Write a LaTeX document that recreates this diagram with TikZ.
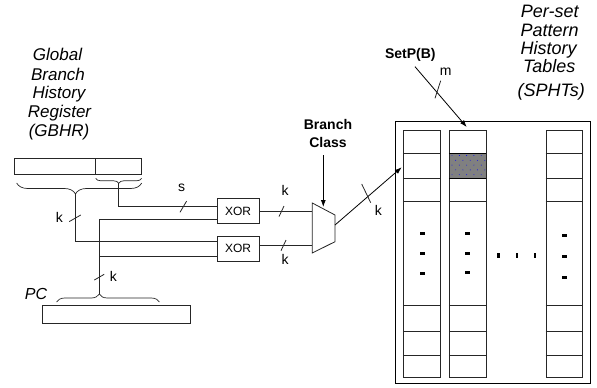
\documentclass[tikz,border=0pt]{standalone}
\usepackage{fontspec}
\setmainfont{Liberation Sans}
\usetikzlibrary{decorations.pathreplacing,arrows.meta,calc}
\begin{document}
\begin{tikzpicture}[x=1pt,y=-1pt,
  wire/.style={line width=0.8pt, draw=black!85},
  tickmark/.style={line width=0.8pt, draw=black!85},
  arr/.style={line width=0.8pt, draw=black, -{Latex[length=7pt,width=5pt]}},
  lbl/.style={font=\fontsize{14}{16}\selectfont, anchor=base, inner sep=0pt},
  ttl/.style={font=\fontsize{17}{19}\selectfont\itshape, anchor=base, inner sep=0pt},
  ttlb/.style={font=\fontsize{18}{20}\selectfont\itshape, anchor=base, inner sep=0pt},
  boldlbl/.style={font=\fontsize{14}{16}\selectfont\bfseries, anchor=base, inner sep=0pt},
  xorbox/.style={draw=black!85, line width=0.8pt, minimum width=42pt, minimum height=25pt, inner sep=0pt, font=\fontsize{12}{14}\selectfont},
  regbox/.style={draw=black!85, line width=0.8pt, inner sep=0pt},
  colbox/.style={draw=black!85, line width=0.8pt, inner sep=0pt, minimum width=36.7pt, minimum height=247.3pt},
  brc/.style={line width=0.7pt, draw=black!85, decorate},
]
\useasboundingbox (0,0) rectangle (597,388);

% GBHR title
\node[ttl] (g1) at (57.5,60.7) {Global};
\node[ttl] (g2) at (58,80) {Branch};
\node[ttl] (g3) at (59,98.3) {History};
\node[ttl] (g4) at (59.5,117.3) {Register};
\node[ttl] (g5) at (59,136.7) {(GBHR)};

% SPHT title
\node[ttlb] (p1) at (549.7,17.5) {Per-set};
\node[ttlb] (p2) at (549.7,36) {Pattern};
\node[ttlb] (p3) at (548.7,54.3) {History};
\node[ttlb] (p4) at (549.3,72.7) {Tables};
\node[ttlb] (p5) at (551.3,96) {(SPHTs)};

% registers
\node[regbox, minimum width=81.4pt, minimum height=16pt] (hL) at (55,166.3) {};
\node[regbox, minimum width=46pt, minimum height=16pt] (hR) at (118.7,166.3) {};
\node[regbox, minimum width=148pt, minimum height=18.3pt] (pc) at (116,314.2) {};
\node[font=\fontsize{16}{18}\selectfont\itshape, anchor=base, inner sep=0pt] (pcl) at (36,299) {PC};

% braces
\draw[brc, decoration={brace, amplitude=11pt, aspect=0.53}] (141.7,183) -- (16.7,183);
\coordinate (bt) at (75,194);
\draw[brc, decoration={brace, amplitude=5pt, aspect=0.5}] (141.7,178.3) -- (95.7,178.3);
\coordinate (st) at (118.7,183.3);
\draw[brc, decoration={brace, amplitude=8pt, aspect=0.415}] (56.7,302) -- (159.3,302);
\coordinate (pt) at (99.3,294);

% XOR gates
\node[xorbox] (x1) at (238,211.3) {XOR};
\node[xorbox] (x2) at (238,248.7) {XOR};

% wires to XORs
\draw[wire] (st) |- ([yshift=4.6pt]x1.west);
\draw[wire] (bt) |- ([yshift=7pt]x2.west);
\draw[wire] (pt) |- ([yshift=-7.7pt]x1.west);
\draw[wire] (pt |- 0,256.7) -- ([yshift=-8pt]x2.west);

% mux
\coordinate (m1) at (312.3,203);
\coordinate (m2) at (335,215);
\coordinate (m3) at (335,241.7);
\coordinate (m4) at (312.3,253);
\coordinate (mo) at (335,225);
\draw[wire] (m1) -- (m2) -- (m3) -- (m4) -- cycle;
\draw[wire] (x1.east) -- (x1.east -| m1);
\draw[wire] ([yshift=3pt]x2.east) -- ([yshift=3pt]x2.east -| m1);

% Branch Class
\node[boldlbl] (bc1) at (328,129.3) {Branch};
\node[boldlbl] (bc2) at (328,147.7) {Class};
\coordinate (bcs) at (323.3,155);
\coordinate (bce) at (323.3,207);
\draw[arr] (bcs) -- (bce);

% SPHT
\node[draw=black, line width=0.8pt, inner sep=0pt, minimum width=195pt, minimum height=261.7pt] (sp) at (492.5,252.5) {};
\fill[gray] (449.3,153) rectangle (486,178);
\foreach \i in {0,...,4} \foreach \j in {0,...,4}
  \fill[blue] ({452+\i*7.3+mod(\j,2)*3.6}, {155.5+\j*4.8}) circle[radius=0.45pt];
\node[colbox] (c1) at (421.7,253.7) {};
\node[colbox] (c2) at (467.7,253.7) {};
\node[colbox] (c3) at (564.3,253.7) {};
\foreach \c in {c1,c2,c3} \foreach \y in {153,178,201,305,331,355}
  \draw[line width=0.8pt, draw=black!85] (\c.west |- 0,\y) -- (\c.east |- 0,\y);
\draw[line width=1pt] (449.3,153) -- (486,153) (449.3,178) -- (486,178);

% dots
\foreach \x/\y in {422.3/233.3, 422.3/253.7, 422.3/273.7, 467.3/233.3, 467.3/253.3, 467.3/272.7, 564.3/235.7, 564.3/256.7, 564.3/277.7}
  \fill[black] (\x-2.2,\y-1.5) rectangle (\x+2.2,\y+1.5);
\foreach \x in {498.3, 516.7, 534.7}
  \fill[black] (\x-1.2,255-2.5) rectangle (\x+1.2,255+2.5);

% mux output
\coordinate (ci) at (401.7,167.3);
\draw[arr] (mo) -- (ci);

% SetP(B)
\node[boldlbl] (setp) at (410.3,58.3) {SetP(B)};
\coordinate (sps) at (415,66.7);
\coordinate (spe) at (466.7,127);
\draw[arr] (sps) -- (spe);

% ticks
\draw[tickmark] (183.3,206.7) ++(-3.3,5.6) -- ++(6.6,-11.2);
\draw[tickmark] (75,218.3) ++(-5.8,3.3) -- ++(11.6,-6.6);
\draw[tickmark] (99.2,277.2) ++(-5,2.9) -- ++(10,-5.8);
\draw[tickmark] (281.5,211.3) ++(-2.5,5.3) -- ++(5,-10.6);
\draw[tickmark] (283.5,245.4) ++(-2.5,5.3) -- ++(5,-10.6);
\draw[tickmark] (361.7,184) -- (370.7,202.7);
\draw[tickmark] (435,98.3) -- (440.7,80.7);

% labels
\node[lbl] (ls) at (181.7,191.7) {s};
\node[lbl] (lk1) at (59.3,222.7) {k};
\node[lbl] (lk2) at (113.3,281.7) {k};
\node[lbl] (lk3) at (285,195) {k};
\node[lbl] (lk4) at (285,264) {k};
\node[lbl] (lk5) at (378.3,215) {k};
\node[lbl] (lm) at (445.7,75) {m};
\end{tikzpicture}
\end{document}
